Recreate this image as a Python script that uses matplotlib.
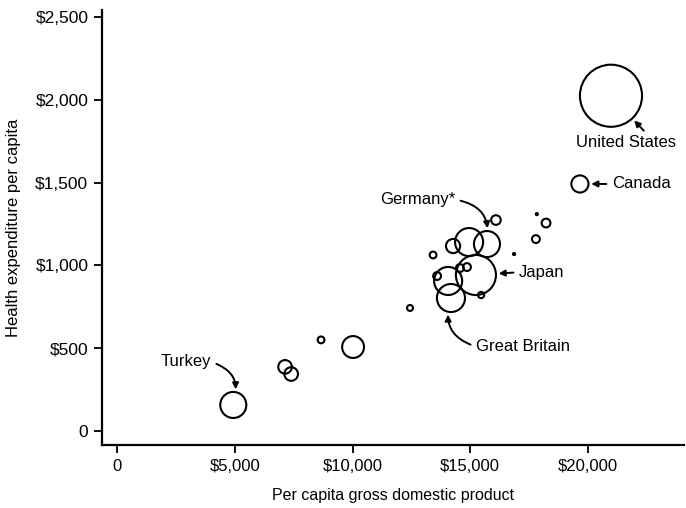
import matplotlib
matplotlib.use("Agg")
from matplotlib import pyplot as plt
from matplotlib.ticker import FuncFormatter

plt.rcParams["font.family"] = ["Liberation Sans", "DejaVu Sans"]

# per capita GDP ($), health spending per capita ($), population (millions)
gdp = [20980, 19660, 4930, 7130, 7390, 8660, 10020, 12440, 14180, 14060,
       15240, 13590, 13420, 14270, 14950, 15710, 14560, 14860, 15460,
       16860, 16090, 17830, 18220, 17790]
health = [2025, 1492, 157, 387, 344, 550, 507, 743, 803, 906,
          942, 936, 1063, 1117, 1141, 1129, 984, 990, 821,
          1069, 1274, 1310, 1256, 1159]
pop = [250, 19, 44, 12, 12, 3, 31, 2.3, 51, 51,
       104, 4, 3, 13, 51, 44, 4, 4, 2.5,
       0.3, 6, 0.3, 5, 4]
names = ["United States", "Canada", "Turkey", "", "", "", "", "", "Great Britain", "",
         "Japan", "", "", "", "", "Germany*", "", "", "",
         "", "", "", "", ""]

xticks = [0, 5000, 10000, 15000, 20000]
yticks = [0, 500, 1000, 1500, 2000, 2500]

fig = plt.figure(figsize=(6.86, 5.08), dpi=100)
ax = fig.add_axes([0.149, 0.124, 0.848, 0.856])

sizes = [p * 8 for p in pop]
ax.scatter(gdp, health, s=sizes, facecolors="none", edgecolors="black", linewidths=1.5)

ax.set_xlim(-640, 24080)
ax.set_ylim(-85, 2542)
ax.set_xticks(xticks)
ax.set_yticks(yticks)
money = FuncFormatter(lambda v, p: "0" if v == 0 else "${:,.0f}".format(v))
ax.xaxis.set_major_formatter(money)
ax.yaxis.set_major_formatter(money)
ax.tick_params(direction="out", length=6, width=1.3, labelsize=12, pad=4)
ax.tick_params(axis="y", labelsize=12.5)
for s in ["top", "right"]:
    ax.spines[s].set_visible(False)
for s in ["left", "bottom"]:
    ax.spines[s].set_linewidth(1.6)

ax.set_xlabel("Per capita gross domestic product", fontsize=11.5, labelpad=10)
ax.set_ylabel("Health expenditure per capita", fontsize=12, labelpad=10)


def label(name, offset, ha, relpos, rad, gap=2):
    i = names.index(name)
    r_pt = (pop[i] * 8) ** 0.5 / 2
    ax.annotate(name, xy=(gdp[i], health[i]), xytext=offset, textcoords="offset points",
                ha=ha, va="center", fontsize=12,
                arrowprops=dict(arrowstyle="-|>", color="black", lw=1.4, mutation_scale=9,
                                shrinkA=2, shrinkB=r_pt + gap, relpos=relpos,
                                connectionstyle="arc3,rad=%s" % rad))


label("Turkey", (-16, 31), "right", (1.0, 0.5), -0.5)
label("Germany*", (-23, 32), "right", (1.0, 0.5), -0.5)
label("Japan", (31, 2), "left", (0.0, 0.5), 0)
label("Great Britain", (18, -35), "left", (0.0, 0.5), -0.5)
label("United States", (11, -34), "center", (0.72, 1.0), 0)
label("Canada", (23, 0), "left", (0.0, 0.5), 0)

fig.savefig("out.png", dpi=100)
